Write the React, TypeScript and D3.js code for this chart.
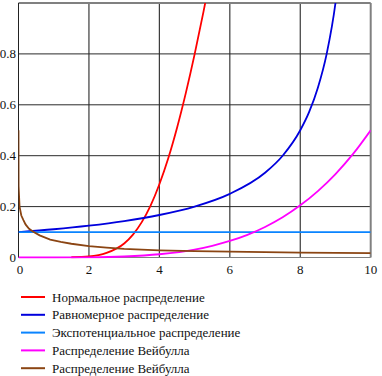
import React, { useEffect, useRef } from "react";
import * as d3 from "d3";

const xTicks = [0, 2, 4, 6, 8, 10];
const yTicks = [0, 0.2, 0.4, 0.6, 0.8];
const yTickLabels = ["0", "0.2", "0.4", "0.6", "0.8"];

const normalX = [1.5, 2, 2.5, 3, 3.25, 3.5, 3.75, 4, 4.25, 4.5, 4.75, 5, 5.25, 5.5];
const normalY = [0.001, 0.004, 0.018, 0.055, 0.09, 0.139, 0.204, 0.288, 0.389, 0.509, 0.646, 0.798, 0.964, 1.14];

const uniformX = [0, 1, 2, 3, 4, 5, 6, 7, 7.5, 8, 8.25, 8.5, 8.75, 9, 9.2];
const uniformY = [0.1, 0.111, 0.125, 0.143, 0.167, 0.2, 0.25, 0.333, 0.4, 0.5, 0.571, 0.667, 0.8, 1.0, 1.25];

const expoX = [0, 10];
const expoY = [0.1, 0.1];

const weibullUpX = [0, 1, 2, 3, 4, 5, 5.5, 6, 6.5, 7, 7.5, 8, 8.5, 9, 9.5, 10];
const weibullUpY = [0, 0.0001, 0.0008, 0.004, 0.0128, 0.031, 0.046, 0.065, 0.089, 0.12, 0.158, 0.205, 0.261, 0.328, 0.407, 0.5];

const weibullDownX = [0, 0.003, 0.03, 0.08, 0.14, 0.2, 0.3, 0.42, 0.6, 0.9, 1.2, 1.5, 2, 2.5, 3, 4, 5, 6, 7, 8, 9, 10];
const weibullDownY = [0.5, 0.28, 0.2, 0.165, 0.147, 0.13, 0.113, 0.101, 0.087, 0.07, 0.061, 0.054, 0.045, 0.039, 0.034, 0.028, 0.025, 0.023, 0.021, 0.019, 0.018, 0.017];

const legendLabels = [
  "Нормальное распределение",
  "Равномерное распределение",
  "Экспотенциальное распределение",
  "Распределение Вейбулла",
  "Распределение Вейбулла",
];
const seriesColors = ["#ff0000", "#0000dd", "#0a84ff", "#ff00ff", "#8b4513"];

export default function App() {
  const ref = useRef<SVGSVGElement>(null);

  useEffect(() => {
    const svg = d3.select(ref.current);
    svg.selectAll("*").remove();

    const x = d3.scaleLinear().domain([0, 10]).range([18.5, 370.7]);
    const y = d3.scaleLinear().domain([0, 1]).range([257.5, 3]);
    const [x0, x1] = x.range();
    const [yb, yt] = y.range();

    svg.append("defs").append("clipPath").attr("id", "plotclip")
      .append("rect").attr("x", x0).attr("y", yt).attr("width", x1 - x0).attr("height", yb - yt + 1);

    svg.selectAll(".gx").data(xTicks.slice(1, -1)).enter().append("line")
      .attr("x1", (d) => x(d)).attr("x2", (d) => x(d)).attr("y1", yt).attr("y2", yb)
      .attr("stroke", "#3a3a3a").attr("stroke-width", 1.2);
    svg.selectAll(".gy").data(yTicks.slice(1)).enter().append("line")
      .attr("x1", x0).attr("x2", x1).attr("y1", (d) => y(d)).attr("y2", (d) => y(d))
      .attr("stroke", "#2a2a2a").attr("stroke-width", 1);

    const frame = [
      [x0, yt, x1, yt, "#808080", 2],
      [x1, yt, x1, yb, "#808080", 2],
      [x0, yb, x1, yb, "#808080", 1],
      [x0, yt, x0, yb, "#222", 1],
    ] as const;
    frame.forEach((f) => {
      svg.append("line").attr("x1", f[0]).attr("y1", f[1]).attr("x2", f[2]).attr("y2", f[3])
        .attr("stroke", f[4]).attr("stroke-width", f[5]);
    });

    const series = [
      { xs: normalX, ys: normalY, curve: d3.curveMonotoneX },
      { xs: uniformX, ys: uniformY, curve: d3.curveMonotoneX },
      { xs: expoX, ys: expoY, curve: d3.curveLinear },
      { xs: weibullUpX, ys: weibullUpY, curve: d3.curveMonotoneX },
      { xs: weibullDownX, ys: weibullDownY, curve: d3.curveLinear },
    ];
    const g = svg.append("g").attr("clip-path", "url(#plotclip)");
    series.forEach((s, i) => {
      const pts: [number, number][] = s.xs.map((v, j) => [v, s.ys[j]]);
      const line = d3.line<[number, number]>().x((d) => x(d[0])).y((d) => y(d[1])).curve(s.curve);
      g.append("path").attr("d", line(pts) as string).attr("fill", "none")
        .attr("stroke", seriesColors[i]).attr("stroke-width", 1.8);
    });

    const font = "Liberation Serif";
    yTicks.forEach((t, i) => {
      svg.append("text").attr("x", 16).attr("y", y(t) + 4.5).attr("text-anchor", "end")
        .attr("font-family", font).attr("font-size", 13).attr("fill", "#111").text(yTickLabels[i]);
    });
    xTicks.forEach((t) => {
      svg.append("text").attr("x", x(t) + (t === 0 ? 1.5 : 0)).attr("y", 274).attr("text-anchor", "middle")
        .attr("font-family", font).attr("font-size", 13).attr("fill", "#111").text(String(t));
    });
    legendLabels.forEach((l, i) => {
      const ly = 297 + i * 17.8;
      svg.append("line").attr("x1", 21).attr("x2", 45).attr("y1", ly).attr("y2", ly)
        .attr("stroke", seriesColors[i]).attr("stroke-width", 2);
      svg.append("text").attr("x", 52).attr("y", ly + 4.5)
        .attr("font-family", font).attr("font-size", 13).attr("fill", "#111").text(l);
    });
  }, []);

  return <svg ref={ref} width={382} height={376} style={{ position: "absolute", left: 0, top: 0 }} />;
}
